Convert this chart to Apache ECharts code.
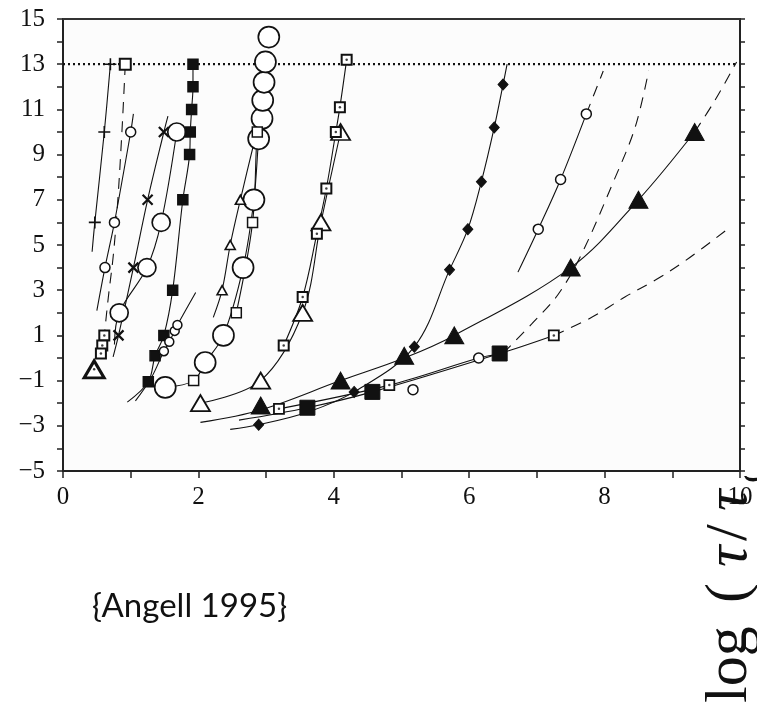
<!DOCTYPE html>
<html>
<head>
<meta charset="utf-8">
<script src="https://cdn.jsdelivr.net/npm/echarts@6/dist/echarts.min.js"></script>
<style>html,body{margin:0;padding:0;background:#fff}#c{width:757px;height:703px}</style>
</head>
<body>
<div id="c"></div>
<script>
// ---------- data ----------
const xTicks = [0, 2, 4, 6, 8, 10];
const yTicks = [-5, -3, -1, 1, 3, 5, 7, 9, 11, 13, 15];
const refLevel = [[0, 13], [9.95, 13]];

const plusPts = [[0.47, 6], [0.61, 10], [0.70, 13]];
const plusLine = [[0.43, 4.7], [0.47, 6], [0.61, 10], [0.70, 13]];

const smallCirc1 = [[0.62, 4], [0.76, 6], [1.00, 10]];
const smallCirc1Line = [[0.50, 2.1], [0.62, 4], [0.76, 6], [1.00, 10], [1.04, 10.8]];

const topOpenSq = [[0.92, 13]];
const dashA = [[0.92, 13], [0.87, 10], [0.81, 7], [0.745, 4.6], [0.67, 2.7], [0.61, 1.0]];

const dotSqCluster = [[0.61, 1.0], [0.58, 0.55], [0.56, 0.2]];
const bigDotTri = [[0.46, -0.5]];

const crossPts = [[0.82, 1], [1.04, 4], [1.25, 7], [1.49, 10]];
const crossLine = [[0.74, 0.05], [0.82, 1], [1.04, 4], [1.25, 7], [1.49, 10], [1.55, 10.7]];

const bigCirc1 = [[0.83, 2], [1.24, 4], [1.45, 6], [1.68, 10]];
const bigCirc1Line = [[0.76, 0.6], [0.83, 2], [1.24, 4], [1.45, 6], [1.68, 10]];

const fillSq = [[1.26, -1.05], [1.36, 0.1], [1.49, 1.0], [1.62, 3.0], [1.77, 7], [1.87, 9], [1.88, 10], [1.90, 11], [1.92, 12], [1.92, 13]];
const fillSqLine = [[0.95, -1.95], [1.26, -1.05], [1.36, 0.1], [1.49, 1.0], [1.62, 3.0], [1.77, 7], [1.87, 9], [1.88, 10], [1.90, 11], [1.92, 12], [1.92, 13]];

const smallCirc2 = [[1.49, 0.3], [1.57, 0.72], [1.65, 1.2], [1.69, 1.46]];
const smallCirc2Line = [[1.07, -1.9], [1.30, -0.9], [1.49, 0.3], [1.57, 0.72], [1.65, 1.2], [1.69, 1.46], [1.96, 2.9]];

const bigCirc2 = [[1.51, -1.3], [2.10, -0.2], [2.37, 1.0], [2.66, 4.0], [2.82, 7.0], [2.89, 9.7], [2.94, 10.6], [2.95, 11.4], [2.97, 12.2], [2.99, 13.1], [3.04, 14.2]];
const bigCirc2Line = [[1.51, -1.3], [1.93, -1.0], [2.10, -0.2], [2.37, 1.0], [2.66, 4.0], [2.82, 7.0], [2.89, 9.7], [2.99, 13.1]];

const openSq = [[1.93, -1.0], [2.56, 2.0], [2.80, 6.0], [2.87, 10.0]];
const openSqLine = [[2.56, 2.0], [2.80, 6.0], [2.87, 10.0], [2.99, 13.1]];

const smallTri = [[2.35, 3.0], [2.47, 5.0], [2.62, 7.0]];
const smallTriLine = [[2.22, 1.8], [2.35, 3.0], [2.47, 5.0], [2.62, 7.0], [2.86, 10.0]];

const bigOpenTri = [[2.03, -2.0], [2.92, -1.0], [3.54, 2.0], [3.81, 6.0], [4.10, 10.0]];
const bigOpenTriLine = [[2.03, -2.0], [2.92, -1.0], [3.54, 2.0], [3.81, 6.0], [4.10, 10.0]];

const dotSq2 = [[3.26, 0.55], [3.54, 2.7], [3.75, 5.5], [3.89, 7.5], [4.03, 10.0], [4.09, 11.1], [4.19, 13.2]];

const fillTri = [[2.92, -2.1], [4.10, -1.0], [5.04, 0.1], [5.78, 1.0], [7.50, 4.0], [8.50, 7.0], [9.33, 10.0]];
const fillTriLine = [[2.03, -2.85], [2.92, -2.3], [4.10, -1.0], [5.04, 0.0], [5.78, 1.0], [7.50, 4.0], [8.50, 7.0], [9.33, 10.0]];
const fillTriDash = [[9.33, 10.0], [9.63, 11.4], [9.95, 13.1]];

const diamond = [[2.89, -2.95], [4.30, -1.5], [5.19, 0.5], [5.71, 3.9], [5.98, 5.7], [6.18, 7.8], [6.37, 10.2], [6.50, 12.1]];
const diamondLine = [[2.47, -3.16], [2.89, -2.95], [3.61, -2.4], [4.30, -1.5], [5.19, 0.5], [5.71, 3.9], [5.98, 5.7], [6.18, 7.8], [6.37, 10.2], [6.50, 12.1], [6.56, 13.0]];

const bigFillSq = [[3.61, -2.2], [4.57, -1.5], [6.45, 0.2]];
const bigFillSqLine = [[2.60, -2.75], [3.61, -2.2], [4.57, -1.5], [6.45, 0.2]];
const dashB = [[6.5, 0.2], [6.92, 1.5], [7.31, 2.8], [7.66, 4.6], [8.13, 7.8], [8.45, 10.2], [8.65, 12.7]];

const dotSq3 = [[3.19, -2.25], [4.82, -1.2], [7.25, 1.0]];
const dotSq3Line = [[3.19, -2.25], [4.82, -1.2], [6.14, 0.0], [6.45, 0.2], [7.25, 1.0]];
const dashC = [[7.25, 1.0], [7.81, 1.8], [8.30, 2.7], [8.75, 3.45], [9.19, 4.3], [9.86, 5.8]];

const smallCirc3 = [[5.17, -1.4], [6.14, 0.0]];

const smallCirc4 = [[7.02, 5.7], [7.35, 7.9], [7.73, 10.8]];
const smallCirc4Line = [[6.72, 3.8], [7.02, 5.7], [7.35, 7.9], [7.73, 10.8]];
const dashD = [[7.73, 10.8], [7.98, 12.7]];

// rotated axis title pieces (text, style key)
const titlePieces = [['log', 'r'], ['(', 'r'], ['\u03c4', 'i'], ['/', 'r'], ['\u03c4', 'i'], ['c', 's']];

// ---------- styling helpers ----------
const INK = '#111';
const SERIF = "'Liberation Serif', 'Times New Roman', serif";
const PLUS = 'path://M5,0L5,10M0,5L10,5';
const CROSS = 'path://M0,0L10,10M0,10L10,0';

function curve(data, dashed) {
  return {
    type: 'line', data: data, smooth: 0.35, symbol: 'none', showSymbol: false,
    lineStyle: { color: INK, width: 1.1, type: dashed ? [11, 8] : 'solid' },
    z: 2, silent: true, clip: true
  };
}
function marks(data, symbol, size, filled, bw) {
  return {
    type: 'scatter', data: data, symbol: symbol, symbolSize: size,
    itemStyle: { color: filled === 'none' ? 'none' : (filled ? INK : '#fff'), borderColor: INK, borderWidth: bw === undefined ? 1.5 : bw, opacity: 1 },
    z: 4, silent: true
  };
}
function dots(data) {
  return { type: 'scatter', data: data, symbol: 'circle', symbolSize: 2.5, itemStyle: { color: INK }, z: 5, silent: true };
}

const chart = echarts.init(document.getElementById('c'), null, { renderer: 'canvas' });
const minus = v => String(v).replace('-', '\u2212');
const labelFont = { fontFamily: SERIF, fontSize: 25, color: INK };

// layout of the rotated title along its baseline (px from its start)
const titleOffsets = [0, 100, 136, 162, 192, 220];
const titleFonts = {
  r: "normal 60px 'Liberation Serif', serif",
  i: "italic 60px 'Liberation Serif', serif",
  s: "normal 40px 'Liberation Serif', serif"
};
const titleChildren = titlePieces.map((p, k) => ({
  type: 'text', z: -20,
  style: { text: p[0], x: titleOffsets[k], y: p[1] === 's' ? 12 : 0, font: titleFonts[p[1]], fill: INK, verticalAlign: 'bottom', align: 'left' }
}));

chart.setOption({
  animation: false,
  backgroundColor: '#fff',
  grid: { left: 63, right: 17, top: 19, bottom: 232, show: true, backgroundColor: '#fcfcfc', borderWidth: 0 },
  xAxis: [
    {
      type: 'value', min: 0, max: 10, interval: 1, position: 'bottom',
      axisLine: { show: true, onZero: false, lineStyle: { color: '#222', width: 2 } },
      axisTick: { show: true, inside: false, length: 7, lineStyle: { color: '#222', width: 1.5 } },
      axisLabel: Object.assign({ margin: 14, formatter: v => xTicks.indexOf(v) >= 0 ? minus(v) : '' }, labelFont),
      splitLine: { show: false }
    },
    {
      type: 'value', min: 0, max: 10, position: 'top',
      axisLine: { show: true, onZero: false, lineStyle: { color: '#333', width: 2 } },
      axisTick: { show: false }, axisLabel: { show: false }, splitLine: { show: false }
    }
  ],
  yAxis: [
    {
      type: 'value', min: -5, max: 15, interval: 1, position: 'left',
      axisLine: { show: true, onZero: false, lineStyle: { color: '#222', width: 2 } },
      axisTick: { show: true, inside: false, length: 6, lineStyle: { color: '#222', width: 1.5 } },
      axisLabel: Object.assign({ margin: 18, formatter: v => yTicks.indexOf(v) >= 0 ? minus(v) : '' }, labelFont),
      splitLine: { show: false }
    },
    {
      type: 'value', min: -5, max: 15, interval: 1, position: 'right',
      axisLine: { show: true, onZero: false, lineStyle: { color: '#222', width: 2 } },
      axisTick: { show: true, inside: false, length: 5, lineStyle: { color: '#222', width: 1.5 } },
      axisLabel: { show: false }, splitLine: { show: false }
    }
  ],
  graphic: [
    { type: 'group', x: 760, y: 703, rotation: Math.PI / 2, z: -20, children: titleChildren },
    { type: 'rect', z: -10, shape: { x: 600, y: 0, width: 157, height: 476 }, style: { fill: '#fff' } },
    {
      type: 'text', x: 92, y: 606, z: 10,
      style: { text: '{Angell 1995}', fontFamily: 'Lato', fontSize: 33, fill: INK, verticalAlign: 'middle', align: 'left' }
    }
  ],
  series: [
    Object.assign(curve(refLevel, false), { smooth: false, lineStyle: { color: INK, width: 2.2, type: [2, 3] } }),
    curve(plusLine), marks(plusPts, PLUS, 12, 'none', 1.6),
    curve(smallCirc1Line), marks(smallCirc1, 'circle', 10, false),
    curve(dashA, true), marks(topOpenSq, 'rect', 11, false, 2),
    marks(dotSqCluster, 'rect', 10, false, 2), dots(dotSqCluster),
    marks(bigDotTri, 'triangle', [20, 17], false, 3), dots(bigDotTri),
    curve(crossLine), marks(crossPts, CROSS, 10, 'none', 2.2),
    curve(bigCirc1Line), marks(bigCirc1, 'circle', 18, false, 1.7),
    curve(fillSqLine), marks(fillSq, 'rect', 10, true),
    curve(smallCirc2Line), marks(smallCirc2, 'circle', 9, false),
    curve(bigCirc2Line), curve(openSqLine), marks(bigCirc2, 'circle', 21, false, 1.7),
    marks(openSq, 'rect', 10, false),
    curve(smallTriLine), marks(smallTri, 'triangle', [10, 9], false, 1.6),
    curve(bigOpenTriLine), marks(bigOpenTri, 'triangle', [19, 16], false, 1.8),
    curve(dotSq2), marks(dotSq2, 'rect', 10, false, 2), dots(dotSq2),
    curve(fillTriLine), curve(fillTriDash, true), marks(fillTri, 'triangle', [19, 17], true, 1),
    curve(diamondLine), marks(diamond, 'diamond', [10, 11], true, 1),
    curve(bigFillSqLine), curve(dashB, true), marks(bigFillSq, 'rect', 15, true, 1),
    curve(dotSq3Line), curve(dashC, true), marks(dotSq3, 'rect', 10, false, 1.8), dots(dotSq3),
    marks(smallCirc3, 'circle', 10, false),
    curve(smallCirc4Line), curve(dashD, true), marks(smallCirc4, 'circle', 10, false)
  ].map((s, i) => Object.assign(s, { xAxisIndex: 0, yAxisIndex: 0 }))
});
</script>
</body>
</html>
